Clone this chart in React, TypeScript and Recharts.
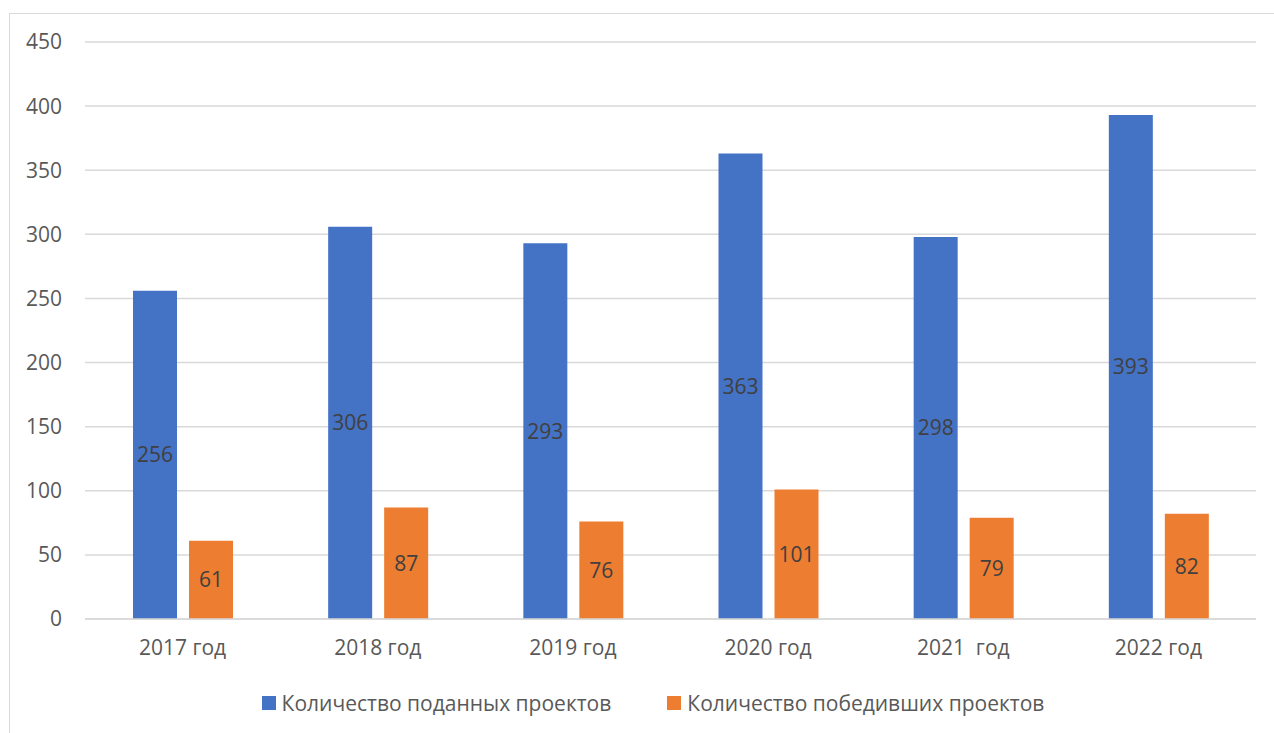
import { BarChart, Bar, XAxis, YAxis, CartesianGrid, Legend, LabelList } from 'recharts'

const years = ['2017 год', '2018 год', '2019 год', '2020 год', '2021 \u00A0год', '2022 год']
const submitted = [256, 306, 293, 363, 298, 393]
const winners = [61, 87, 76, 101, 79, 82]
const yTicks = [0, 50, 100, 150, 200, 250, 300, 350, 400, 450]

const seriesNames = ['Количество поданных проектов', 'Количество победивших проектов']
const BLUE = '#4472C4'
const ORANGE = '#ED7D31'
const TEXT = '#595959'
const FONT = '"Open Sans", "Noto Sans", sans-serif'

const data = years.map((year, i) => ({
  year,
  submitted: submitted[i],
  winners: winners[i],
}))

function ChartLegend() {
  const items = [
    { name: seriesNames[0], color: BLUE },
    { name: seriesNames[1], color: ORANGE },
  ]
  return (
    <div
      style={{
        height: 60,
        paddingLeft: 50,
        display: 'flex',
        alignItems: 'center',
        justifyContent: 'center',
        gap: 56,
        fontFamily: FONT,
        fontSize: 21,
        color: TEXT,
      }}
    >
      {items.map((it) => (
        <div key={it.name} style={{ display: 'flex', alignItems: 'center' }}>
          <span style={{ width: 14, height: 14, background: it.color, marginRight: 6, display: 'inline-block' }} />
          <span>{it.name}</span>
        </div>
      ))}
    </div>
  )
}

export default function App() {
  return (
    <div style={{ position: 'absolute', left: 0, top: 0, width: 1274, height: 733, background: '#fff', overflow: 'hidden' }}>
      <div
        style={{
          position: 'absolute',
          left: 9,
          top: 13,
          width: 1400,
          height: 900,
          borderLeft: '1.5px solid #d9d9d9',
          borderTop: '1.5px solid #d9d9d9',
        }}
      />
      <div style={{ position: 'absolute', left: 0, top: 0 }}>
        <BarChart
          width={1274}
          height={733}
          data={data}
          margin={{ top: 42, right: 18, left: 0, bottom: 0 }}
          barSize={44}
          barGap={12}
        >
          <CartesianGrid vertical={false} stroke="#d9d9d9" strokeWidth={1.5} />
          <XAxis
            dataKey="year"
            height={54}
            axisLine={{ stroke: '#d9d9d9', strokeWidth: 1.5 }}
            tickLine={false}
            tickMargin={15}
            tick={{ fill: TEXT, fontSize: 21, fontFamily: FONT }}
          />
          <YAxis
            width={85}
            domain={[0, 450]}
            ticks={yTicks}
            interval={0}
            axisLine={false}
            tickLine={false}
            tickMargin={17}
            tick={{ fill: TEXT, fontSize: 21, fontFamily: FONT }}
          />
          <Legend verticalAlign="bottom" content={<ChartLegend />} />
          <Bar dataKey="submitted" name={seriesNames[0]} fill={BLUE} isAnimationActive={false}>
            <LabelList dataKey="submitted" position="center" fill="#404040" fontSize={21} fontFamily={FONT} />
          </Bar>
          <Bar dataKey="winners" name={seriesNames[1]} fill={ORANGE} isAnimationActive={false}>
            <LabelList dataKey="winners" position="center" fill="#404040" fontSize={21} fontFamily={FONT} />
          </Bar>
        </BarChart>
      </div>
    </div>
  )
}
